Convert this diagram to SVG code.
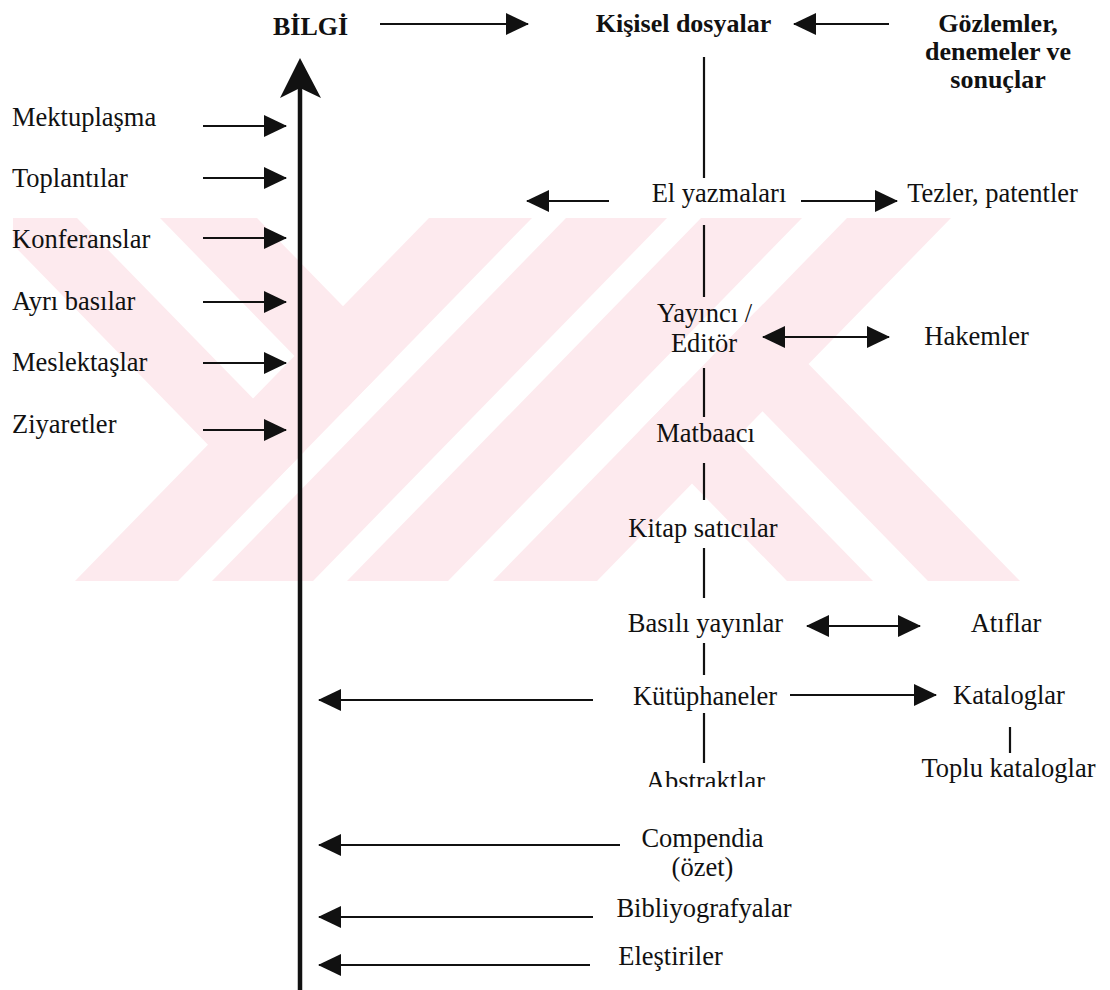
<svg xmlns="http://www.w3.org/2000/svg" width="1110" height="990" viewBox="0 0 1110 990">
<style>
.t{font-family:"Liberation Serif","Times New Roman",serif;font-size:26.5px;fill:#111;}
.b{font-family:"Liberation Serif","Times New Roman",serif;font-size:26px;font-weight:bold;fill:#111;}
.m{text-anchor:middle;}
.c{stroke:#111;stroke-width:2.2;fill:none;}
.a{stroke:#111;stroke-width:2.2;fill:none;marker-end:url(#ah);}
.d{stroke:#111;stroke-width:2.2;fill:none;marker-end:url(#ah);marker-start:url(#ah);}
.wm{fill:#fdeaee;}
</style>
<defs>
<marker id="ah" markerUnits="userSpaceOnUse" viewBox="0 0 23 22" refX="22" refY="11" markerWidth="23" markerHeight="22" orient="auto-start-reverse">
<path d="M0,0 L23,11 L0,22 Z" fill="#111"/>
</marker>
<clipPath id="abclip"><rect x="600" y="760" width="220" height="27"/></clipPath>
</defs>
<rect width="1110" height="990" fill="#fff"/>
<g id="watermark">
<polygon class="wm" points="429,218 532,218 178,581 75,581"/>
<polygon class="wm" points="566,218 667,218 313,581 212,581"/>
<polygon class="wm" points="701,218 802,218 448,581 347,581"/>
<polygon class="wm" points="847,218 951,218 597,581 493,581"/>
<polygon class="wm" points="13,218 77,218 304.5,451.3 259.5,497.5 13,244.7"/>
<polygon class="wm" points="160,218 257,218 394.5,359 346,408.8"/>
<polygon class="wm" points="787,581 873,581 683,386.1 640,430.2"/>
<polygon class="wm" points="928,581 1020,581 756.5,310.7 710.6,358"/>
</g>
<g id="connectors">
<line x1="300" y1="990" x2="300" y2="86" stroke="#111" stroke-width="4.5"/>
<polygon points="300,58 321,98 300,88 280,98" fill="#111"/>
<line class="a" x1="203" y1="126" x2="286" y2="126"/>
<line class="a" x1="203" y1="178" x2="286" y2="178"/>
<line class="a" x1="203" y1="238" x2="286" y2="238"/>
<line class="a" x1="203" y1="302" x2="286" y2="302"/>
<line class="a" x1="203" y1="363" x2="286" y2="363"/>
<line class="a" x1="203" y1="430" x2="286" y2="430"/>
<line class="a" x1="380" y1="24" x2="528" y2="24"/>
<line class="a" x1="889" y1="24" x2="794" y2="24"/>
<line class="c" x1="704" y1="57" x2="704" y2="178"/>
<line class="a" x1="609" y1="201" x2="527" y2="201"/>
<line class="a" x1="801" y1="201" x2="897" y2="201"/>
<line class="c" x1="704" y1="225" x2="704" y2="297"/>
<line class="d" x1="763" y1="337" x2="889" y2="337"/>
<line class="c" x1="704" y1="368" x2="704" y2="417"/>
<line class="c" x1="704" y1="463" x2="704" y2="500"/>
<line class="c" x1="704" y1="548" x2="704" y2="598"/>
<line class="d" x1="807" y1="626" x2="920" y2="626"/>
<line class="c" x1="704" y1="643" x2="704" y2="675"/>
<line class="a" x1="593" y1="700" x2="319" y2="700"/>
<line class="a" x1="790" y1="695" x2="936" y2="695"/>
<line class="c" x1="1010" y1="727" x2="1010" y2="753"/>
<line class="c" x1="704" y1="713" x2="704" y2="763"/>
<line class="a" x1="620" y1="845" x2="319" y2="845"/>
<line class="a" x1="593" y1="917" x2="319" y2="917"/>
<line class="a" x1="590" y1="965" x2="319" y2="965"/>
</g>
<g id="n-bilgi"><text class="b m" x="310.5" y="35">BİLGİ</text></g>
<g id="n-kisisel"><text class="b m" x="683.5" y="32">Kişisel dosyalar</text></g>
<g id="n-gozlemler">
<text class="b m" x="998" y="32">Gözlemler,</text>
<text class="b m" x="998" y="60">denemeler ve</text>
<text class="b m" x="998" y="88">sonuçlar</text>
</g>
<g id="n-mektup"><text class="t" x="12" y="126">Mektuplaşma</text></g>
<g id="n-toplanti"><text class="t" x="12" y="187">Toplantılar</text></g>
<g id="n-konferans"><text class="t" x="12" y="248">Konferanslar</text></g>
<g id="n-ayri"><text class="t" x="12" y="310">Ayrı basılar</text></g>
<g id="n-meslek"><text class="t" x="12" y="371">Meslektaşlar</text></g>
<g id="n-ziyaret"><text class="t" x="12" y="433">Ziyaretler</text></g>
<g id="n-elyazma"><text class="t m" x="719" y="202">El yazmaları</text></g>
<g id="n-tezler"><text class="t m" x="992.5" y="202">Tezler, patentler</text></g>
<g id="n-yayinci">
<text class="t m" x="704.5" y="322">Yayıncı /</text>
<text class="t m" x="704" y="352">Editör</text>
</g>
<g id="n-hakem"><text class="t m" x="976.5" y="345">Hakemler</text></g>
<g id="n-matbaaci"><text class="t m" x="705.5" y="442">Matbaacı</text></g>
<g id="n-kitap"><text class="t m" x="703" y="537">Kitap satıcılar</text></g>
<g id="n-basili"><text class="t m" x="705.5" y="632">Basılı yayınlar</text></g>
<g id="n-atif"><text class="t m" x="1006" y="632">Atıflar</text></g>
<g id="n-kutup"><text class="t m" x="705" y="705">Kütüphaneler</text></g>
<g id="n-katalog"><text class="t m" x="1009" y="704">Kataloglar</text></g>
<g id="n-toplu"><text class="t m" x="1008.5" y="777">Toplu kataloglar</text></g>
<g id="n-abstrakt"><text class="t m" x="705.5" y="790" clip-path="url(#abclip)">Abstraktlar</text></g>
<g id="n-compendia">
<text class="t m" x="702.5" y="847">Compendia</text>
<text class="t m" x="702.5" y="876">(özet)</text>
</g>
<g id="n-biblio"><text class="t m" x="704" y="917">Bibliyografyalar</text></g>
<g id="n-elestiri"><text class="t m" x="670.5" y="965">Eleştiriler</text></g>
</svg>
